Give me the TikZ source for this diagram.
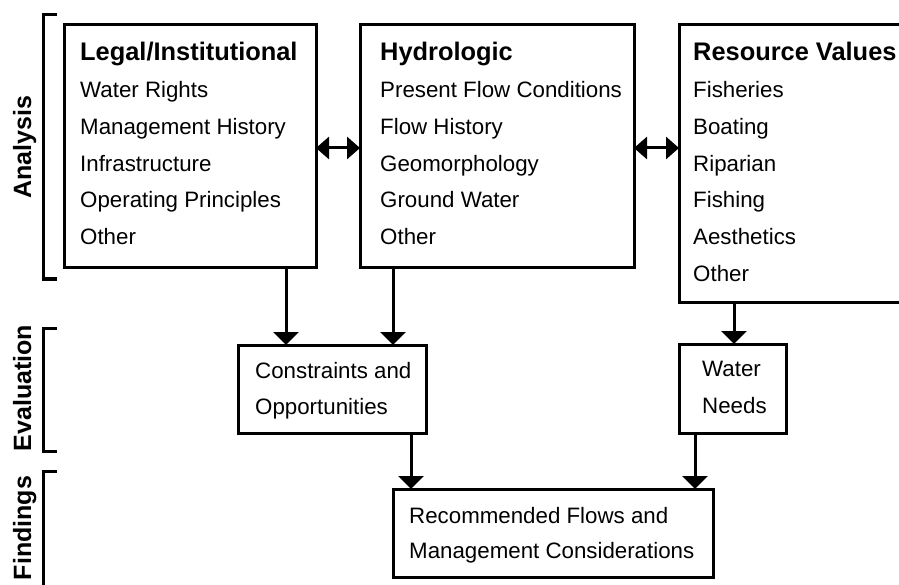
\documentclass[tikz,border=0pt]{standalone}
\usepackage{fontspec}
\setmainfont{Liberation Sans}
\usetikzlibrary{arrows.meta}
\begin{document}
\begin{tikzpicture}[x=1pt,y=-1pt,
  box/.style={draw, line width=3pt, inner sep=0pt, outer sep=0pt, anchor=north west},
  head/.style={inner sep=0pt, anchor=base west, font=\fontsize{25.4}{30}\selectfont\bfseries},
  body/.style={inner sep=0pt, anchor=base west, font=\fontsize{22.3}{26}\selectfont},
  lab/.style={inner sep=0pt, anchor=base, rotate=90, font=\fontsize{25}{30}\selectfont\bfseries},
  bracket/.style={line width=3pt},
  arr/.style={line width=3pt, -{Triangle[length=13pt,width=25pt]}},
  darr/.style={line width=3pt, {Triangle[length=13pt,width=22pt]}-{Triangle[length=13pt,width=22pt]}}]
\useasboundingbox (0,0) rectangle (899,585);
\clip (0,0) rectangle (899,585);
% brackets and side labels
\draw[bracket] (57,15) -- (43,15) -- (43,279) -- (57,279);
\draw[bracket] (57,328) -- (43,328) -- (43,451) -- (57,451);
\draw[bracket] (57,471) -- (43,471) -- (43,600);
\node[lab] (lana) at (31,147) {Analysis};
\node[lab] (leva) at (31,388) {Evaluation};
\node[lab] (lfin) at (31,528) {Findings};
% Legal box
\node[box, minimum width=252pt, minimum height=243pt] (legal) at (64,25) {};
\node[head] (legalh) at (80,61) {Legal/Institutional};
\foreach \t [count=\i] in {Water Rights, Management History, Infrastructure, Operating Principles, Other}
  \node[body] (legal\i) at (80,{61+36.7*\i}) {\t};
% Hydrologic box
\node[box, minimum width=274pt, minimum height=243pt] (hydro) at (360,25) {};
\node[head] (hydroh) at (380,61) {Hydrologic};
\foreach \t [count=\i] in {Present Flow Conditions, Flow History, Geomorphology, Ground Water, Other}
  \node[body] (hydro\i) at (380,{61+36.7*\i}) {\t};
% Resource box
\node[box, minimum width=240pt, minimum height=277pt] (res) at (679,25) {};
\node[head] (resh) at (693,61) {Resource Values};
\foreach \t [count=\i] in {Fisheries, Boating, Riparian, Fishing, Aesthetics, Other}
  \node[body] (res\i) at (693,{61+36.7*\i}) {\t};
% Constraints box
\node[box, minimum width=188pt, minimum height=88pt] (cons) at (238,345) {};
\node[body] (cons1) at (255,378) {Constraints and};
\node[body] (cons2) at (255,414) {Opportunities};
% Water Needs box
\node[box, minimum width=107pt, minimum height=89pt] (need) at (679,344) {};
\node[body] (need1) at (702,376) {Water};
\node[body] (need2) at (702,413) {Needs};
% Recommended box
\node[box, minimum width=320pt, minimum height=88pt] (rec) at (393,489) {};
\node[body] (rec1) at (409,523) {Recommended Flows and};
\node[body] (rec2) at (409,558) {Management Considerations};
% connectors
\coordinate (c1) at (286,0);
\coordinate (c2) at (393,0);
\coordinate (c3) at (734,0);
\coordinate (c4) at (411,0);
\coordinate (c5) at (695,0);
\coordinate (r1) at (0,148);
\draw[arr] (c1 |- legal.south) -- (c1 |- cons.north);
\draw[arr] (c2 |- hydro.south) -- (c2 |- cons.north);
\draw[arr] (c3 |- res.south) -- (c3 |- need.north);
\draw[arr] (c4 |- cons.south) -- (c4 |- rec.north);
\draw[arr] (c5 |- need.south) -- (c5 |- rec.north);
\draw[darr] (legal.east |- r1) -- (hydro.west |- r1);
\draw[darr] (hydro.east |- r1) -- (res.west |- r1);
\end{tikzpicture}
\end{document}
